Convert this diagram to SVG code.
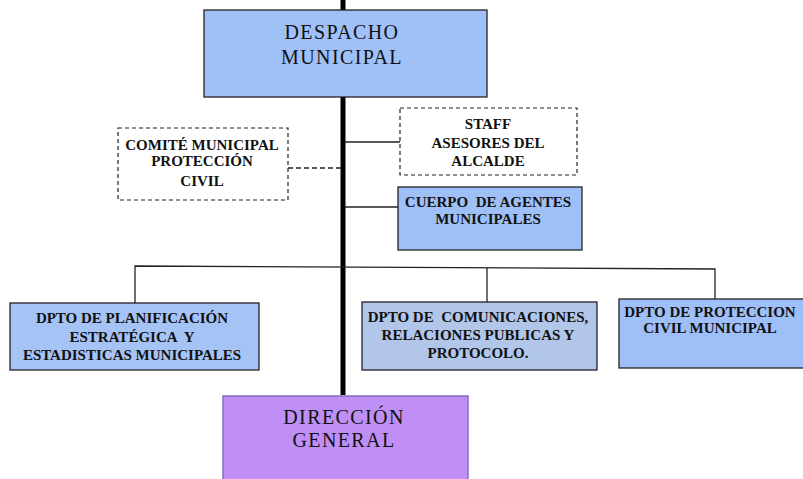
<svg xmlns="http://www.w3.org/2000/svg" width="803" height="479" viewBox="0 0 803 479">
<style>
.box{stroke:#222;stroke-width:1.3}
.dash{fill:#fff;stroke:#222;stroke-width:1.2;stroke-dasharray:4 3}
.big{font-family:'Liberation Serif','Times New Roman','DejaVu Serif',serif;font-size:20px;letter-spacing:1.4px;text-anchor:middle;fill:#111}
.sm{font-family:'Liberation Serif','Times New Roman','DejaVu Serif',serif;font-size:15px;font-weight:bold;text-anchor:middle;fill:#111}
.ln{stroke:#222;stroke-width:1.3;fill:none}
</style>
<rect width="803" height="479" fill="#fff"/>
<g id="connectors">
<line x1="343" y1="0" x2="343" y2="395" stroke="#000" stroke-width="5"/>
<line class="ln" x1="288" y1="168" x2="341" y2="168" stroke-dasharray="5 3"/>
<line class="ln" x1="345" y1="142" x2="400" y2="142"/>
<line class="ln" x1="345" y1="207" x2="398" y2="207"/>
<polyline class="ln" points="135,303 135,266 715,269 715,299" stroke-width="1.6"/>
<line class="ln" x1="487" y1="268" x2="487" y2="302"/>
</g>
<g id="despacho">
<rect class="box" x="204" y="10" width="283" height="87" fill="#A0C0F8" stroke-width="2"/>
<text class="big" x="342" y="39">DESPACHO</text>
<text class="big" x="342" y="64">MUNICIPAL</text>
</g>
<g id="comite">
<rect class="dash" x="118" y="128" width="170" height="72"/>
<text class="sm" x="202" y="150">COMITÉ MUNICIPAL</text>
<text class="sm" x="202" y="166">PROTECCIÓN</text>
<text class="sm" x="202" y="186">CIVIL</text>
</g>
<g id="staff">
<rect class="dash" x="400" y="108" width="177" height="67"/>
<text class="sm" x="488" y="129">STAFF</text>
<text class="sm" x="488" y="148">ASESORES DEL</text>
<text class="sm" x="488" y="166">ALCALDE</text>
</g>
<g id="cuerpo">
<rect class="box" x="398" y="187" width="184" height="63" fill="#9FBFF7"/>
<text class="sm" x="488" y="207" xml:space="preserve">CUERPO  DE AGENTES</text>
<text class="sm" x="488" y="224">MUNICIPALES</text>
</g>
<g id="planificacion">
<rect class="box" x="10" y="303" width="249" height="67" fill="#A6C3F5"/>
<text class="sm" x="132" y="323">DPTO DE PLANIFICACIÓN</text>
<text class="sm" x="132" y="342" xml:space="preserve">ESTRATÉGICA  Y</text>
<text class="sm" x="132" y="360">ESTADISTICAS MUNICIPALES</text>
</g>
<g id="comunicaciones">
<rect class="box" x="362" y="302" width="235" height="68" fill="#B2C6EA"/>
<text class="sm" x="478" y="322" xml:space="preserve">DPTO DE  COMUNICACIONES,</text>
<text class="sm" x="478" y="340">RELACIONES PUBLICAS Y</text>
<text class="sm" x="478" y="358">PROTOCOLO.</text>
</g>
<g id="proteccion">
<rect class="box" x="619" y="299" width="190" height="69" fill="#9FBFF8"/>
<text class="sm" x="710" y="317">DPTO DE PROTECCION</text>
<text class="sm" x="710" y="333">CIVIL MUNICIPAL</text>
</g>
<g id="direccion">
<rect x="223" y="396" width="245" height="90" fill="#BF8FF5" stroke="#8A6BC4" stroke-width="1.5"/>
<text class="big" x="344" y="424">DIRECCIÓN</text>
<text class="big" x="344" y="447">GENERAL</text>
</g>
</svg>
